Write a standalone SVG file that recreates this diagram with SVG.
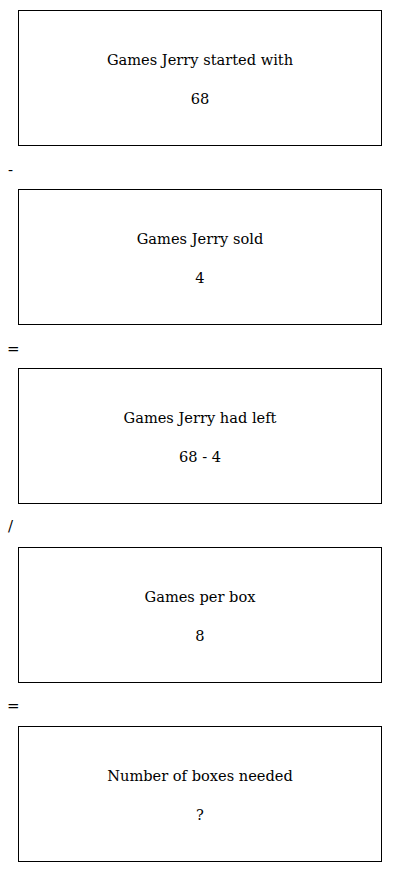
<svg xmlns="http://www.w3.org/2000/svg" width="400" height="872" viewBox="0 0 400 872">
<style>
.box{fill:#fff;stroke:#000;stroke-width:1}
.t{font-family:"DejaVu Serif","Liberation Serif",serif;font-size:14.6px;fill:#000;text-anchor:middle}
.op{font-family:"DejaVu Serif","Liberation Serif",serif;font-size:15px;fill:#000}
</style>
<rect width="400" height="872" fill="#fff"/>
<g id="n1"><rect class="box" x="18.5" y="10.5" width="363" height="135"/><text class="t" x="200" y="65">Games Jerry started with</text><text class="t" x="200" y="104">68</text></g>
<g id="n2"><rect class="box" x="18.5" y="189.5" width="363" height="135"/><text class="t" x="200" y="244">Games Jerry sold</text><text class="t" x="200" y="283">4</text></g>
<g id="n3"><rect class="box" x="18.5" y="368.5" width="363" height="135"/><text class="t" x="200" y="423">Games Jerry had left</text><text class="t" x="200" y="462">68 - 4</text></g>
<g id="n4"><rect class="box" x="18.5" y="547.5" width="363" height="135"/><text class="t" x="200" y="602">Games per box</text><text class="t" x="200" y="641">8</text></g>
<g id="n5"><rect class="box" x="18.5" y="726.5" width="363" height="135"/><text class="t" x="200" y="781">Number of boxes needed</text><text class="t" x="200" y="820">?</text></g>
<g id="connectors">
<text class="op" x="8" y="175">-</text>
<text class="op" x="7" y="354">=</text>
<text class="op" x="8" y="531">/</text>
<text class="op" x="7" y="711">=</text>
</g>
</svg>
